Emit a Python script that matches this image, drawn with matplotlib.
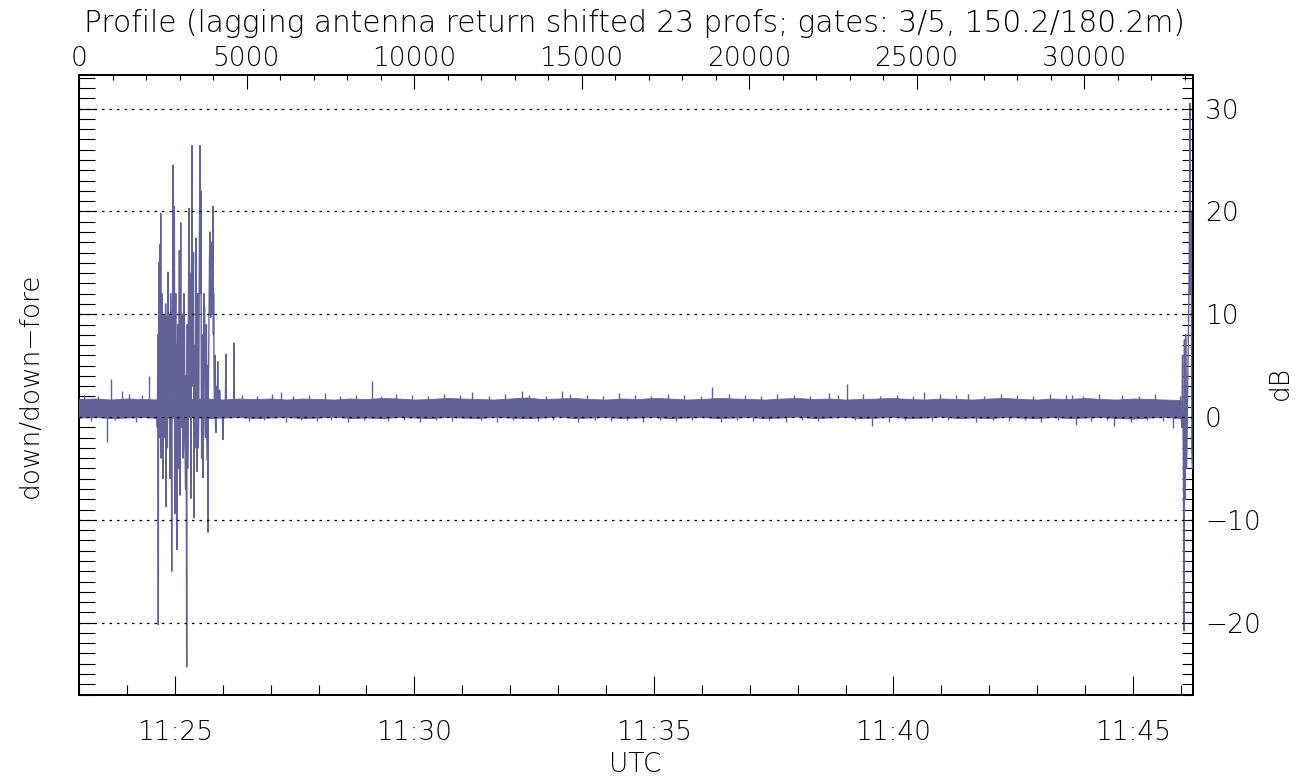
import numpy as np
import matplotlib
matplotlib.use('Agg')
import matplotlib.pyplot as plt
from matplotlib.ticker import MultipleLocator, FixedLocator, FixedFormatter

plt.rcParams['font.family'] = ['DejaVu Sans']
plt.rcParams['font.weight'] = 'light'

# time in minutes after 11:00 UTC
t_start = 23.0
t_end = 46.245
n_profiles = 33240

# noise band of the trace, read every 20 s from 11:23:00 to 11:46:00
band_t = np.linspace(23.0, 46.0, 70)
band_hi = [1.75, 1.8, 1.7, 1.8, 1.75, 1.7, 1.8, 1.75, 1.8, 1.7,
           1.8, 1.75, 1.8, 1.7, 1.8, 1.75, 1.7, 1.8, 1.75, 1.85,
           1.8, 1.7, 1.75, 1.85, 1.8, 1.75, 1.7, 1.8, 1.9, 1.75,
           1.8, 1.85, 1.75, 1.7, 1.8, 1.75, 1.85, 1.8, 1.7, 1.75,
           1.85, 1.8, 1.75, 1.7, 1.8, 1.85, 1.75, 1.8, 1.7, 1.75,
           1.8, 1.85, 1.75, 1.7, 1.8, 1.75, 1.7, 1.8, 1.85, 1.75,
           1.7, 1.8, 1.75, 1.85, 1.75, 1.7, 1.8, 1.75, 1.7, 1.65]
band_lo = [-0.05, 0.0, -0.1, -0.05, 0.0, -0.1, -0.05, 0.05, -0.1, -0.05,
           0.0, -0.1, -0.05, 0.0, -0.1, -0.05, 0.05, -0.1, -0.05, -0.1,
           0.0, -0.05, -0.1, 0.0, -0.05, -0.1, 0.0, -0.05, -0.1, -0.05,
           0.05, -0.1, -0.05, 0.0, -0.1, -0.05, 0.0, -0.1, -0.05, 0.0,
           -0.1, -0.05, 0.0, -0.1, -0.05, 0.05, -0.1, -0.05, 0.0, -0.1,
           -0.05, 0.0, -0.1, -0.05, 0.05, -0.1, -0.05, -0.1, 0.0, -0.05,
           -0.1, 0.0, -0.1, -0.05, 0.0, -0.1, -0.15, -0.05, 0.0, -0.1]

# small fringe spikes along the band edges (time, dB)
fringe = [(23.10, 2.1), (23.25, -0.4), (23.40, 2.0), (23.75, -0.3), (24.05, 2.2),
          (24.20, -0.5), (24.32, 2.1), (26.40, 2.1), (26.55, -0.4), (26.71, 2.0),
          (26.86, -0.3), (27.02, 2.2), (27.33, -0.5), (27.47, 2.0), (27.64, -0.3),
          (27.80, 2.1), (27.96, -0.4), (28.13, 2.3), (28.27, -0.3), (28.45, 2.0),
          (28.61, -0.5), (28.78, 2.1), (28.95, -0.3), (29.30, 2.0), (29.44, -0.4),
          (29.62, 2.2), (29.79, -0.3), (29.95, 2.1), (30.12, -0.5), (30.28, 2.0),
          (30.45, -0.3), (30.61, 2.2), (30.78, -0.4), (30.95, 2.1), (31.40, -0.3),
          (31.55, 2.0), (31.72, -0.5), (31.90, 2.2), (32.05, -0.3), (32.40, 2.1),
          (32.58, -0.4), (32.74, 2.0), (32.90, -0.3), (33.25, 2.2), (33.42, -0.5),
          (33.60, 2.1), (33.77, -0.3), (33.93, 2.0), (34.10, -0.4), (34.27, 2.3),
          (34.44, -0.3), (34.60, 2.1), (34.78, -0.5), (34.95, 2.0), (35.12, -0.3),
          (35.30, 2.2), (35.47, -0.4), (35.63, 2.1), (35.80, -0.3), (35.98, 2.0),
          (36.40, -0.5), (36.57, 2.2), (36.74, -0.3), (36.90, 2.1), (37.07, -0.4),
          (37.24, 2.0), (37.41, -0.3), (37.58, 2.2), (37.75, -0.5), (37.92, 2.1),
          (38.09, -0.3), (38.26, 2.0), (38.43, -0.4), (38.85, 2.1), (39.20, -0.3),
          (39.37, 2.2), (39.72, 2.0), (39.90, -0.5), (40.07, 2.1), (40.24, -0.3),
          (40.41, 2.0), (40.80, -0.4), (40.97, 2.2), (41.14, -0.3), (41.31, 2.1),
          (41.73, -0.5), (41.90, 2.0), (42.07, -0.3), (42.24, 2.2), (42.41, -0.4),
          (42.58, 2.1), (42.75, -0.3), (42.92, 2.0), (43.09, -0.5), (43.26, 2.2),
          (43.43, -0.3), (43.60, 2.1), (43.95, 2.0), (44.12, -0.4), (44.29, 2.2),
          (44.46, -0.3), (44.78, 2.1), (44.95, -0.5), (45.12, 2.0), (45.29, -0.3),
          (45.46, 2.2), (45.63, -0.4), (45.98, 2.0)]

# isolated spikes sticking out of the band
spike_t = [23.58, 23.66, 23.89, 24.46, 27.21, 29.12, 31.21, 32.24, 33.08,
           36.22, 38.66, 39.03, 39.55, 40.63, 41.56, 43.72, 43.81, 44.61, 45.84]
spike_v = [-2.4, 3.7, 2.5, 4.0, 2.4, 3.5, 2.4, 2.5, 2.5,
           2.9, 2.3, 3.2, -0.9, 2.4, 2.2, 2.1, -0.8, -0.9, -1.1]

# the burst around 11:25 (time, dB)
burst = [(24.60, 0.9), (24.62, 1.5), (24.635, -1.0), (24.648, 8.0), (24.655, -20.2),
         (24.66, 4.0), (24.665, 15.0), (24.672, -2.0), (24.68, 10.0), (24.688, 3.0),
         (24.695, 16.8), (24.70, 5.0), (24.706, 19.8), (24.712, -4.0), (24.72, 2.0),
         (24.73, 12.0), (24.74, 9.5), (24.75, -6.0), (24.76, -3.0), (24.77, 8.0),
         (24.78, 10.0), (24.79, -2.0), (24.80, 4.0), (24.808, 11.0), (24.816, -8.7),
         (24.825, 6.0), (24.835, 9.8), (24.845, -3.0), (24.858, 14.1), (24.865, 2.0),
         (24.875, 0.5), (24.882, 9.0), (24.89, 10.0), (24.898, -6.0), (24.905, -3.5),
         (24.912, 12.0), (24.92, 9.0), (24.928, 2.0), (24.935, -15.0), (24.942, 6.0),
         (24.95, 5.0), (24.955, 13.0), (24.962, 24.5), (24.968, 4.0), (24.975, 1.0),
         (24.982, 11.0), (24.99, 20.5), (24.997, 3.0), (25.004, -9.4), (25.012, 8.0),
         (25.02, 12.0), (25.03, -4.0), (25.038, 7.0), (25.046, -12.9), (25.053, 4.0),
         (25.06, 9.0), (25.07, -5.0), (25.08, -2.0), (25.088, 9.0), (25.095, 16.2),
         (25.102, 2.0), (25.109, -7.6), (25.116, 6.0), (25.123, 18.9), (25.13, 5.0),
         (25.14, -1.0), (25.15, 7.0), (25.16, 10.0), (25.17, -4.0), (25.18, -3.0),
         (25.19, 12.0), (25.20, 10.5), (25.21, -2.0), (25.225, -7.0), (25.235, 4.0),
         (25.248, -24.3), (25.254, 3.0), (25.26, 9.0), (25.268, -5.0), (25.275, -2.0),
         (25.285, 11.0), (25.296, 20.3), (25.303, 6.0), (25.31, 0.0), (25.318, 8.0),
         (25.325, 14.0), (25.332, -3.0), (25.338, -7.9), (25.345, 9.0), (25.352, 18.0),
         (25.359, 26.4), (25.366, 10.0), (25.375, 3.0), (25.382, 12.0), (25.39, 16.0),
         (25.396, 2.0), (25.401, -9.8), (25.41, 4.0), (25.42, 7.0), (25.43, -3.0),
         (25.44, 17.4), (25.45, 8.0), (25.46, -5.3), (25.47, 6.0), (25.48, 12.0),
         (25.49, -3.0), (25.50, 0.0), (25.51, 14.0), (25.518, 20.0), (25.526, 26.4),
         (25.535, 12.0), (25.545, 22.0), (25.552, 5.0), (25.56, -4.0), (25.57, 8.0),
         (25.58, 2.0), (25.589, -5.9), (25.597, 6.0), (25.605, 12.0), (25.612, 4.0),
         (25.62, 10.7), (25.63, 0.0), (25.64, -2.0), (25.65, 7.0), (25.66, 9.0),
         (25.67, -1.0), (25.68, -4.2), (25.686, 5.0), (25.693, -11.2), (25.70, 2.0),
         (25.71, 8.0), (25.72, 13.0), (25.73, 18.0), (25.74, 11.0), (25.75, 9.7),
         (25.76, 14.0), (25.77, 17.0), (25.78, 10.0), (25.79, 15.0), (25.797, 20.5),
         (25.805, 8.0), (25.81, 12.0), (25.82, 4.0), (25.83, 1.0), (25.838, 6.0),
         (25.845, 0.5), (25.85, -1.0), (25.86, -1.5), (25.868, 3.0), (25.875, 2.0),
         (25.886, 0.5), (25.896, 5.4), (25.905, 0.8), (25.92, 0.5), (25.935, 2.6),
         (25.95, 1.5), (25.97, 0.8), (25.99, 0.4), (26.006, -2.2), (26.02, 1.6),
         (26.03, 1.2), (26.05, 0.3), (26.069, 6.1), (26.076, 0.2), (26.09, 0.5),
         (26.12, 1.5), (26.15, 0.6), (26.20, 1.2), (26.23, 0.5), (26.236, 7.2),
         (26.245, 0.3), (26.26, 0.8)]

# the end of the record (time, dB)
tail = [(46.00, 0.8), (46.02, -1.0), (46.035, 6.0), (46.05, -3.0), (46.07, -20.8),
        (46.075, 7.5), (46.09, -8.0), (46.10, 8.0), (46.12, -5.0), (46.14, 2.0),
        (46.16, 9.0), (46.175, 15.0), (46.19, 30.5), (46.20, 12.0), (46.215, 20.0),
        (46.23, -3.0), (46.24, -5.0)]

bottom_ticks = [25, 30, 35, 40, 45]
bottom_labels = ['11:25', '11:30', '11:35', '11:40', '11:45']
top_ticks = [0, 5000, 10000, 15000, 20000, 25000, 30000]
db_ticks = [-20, -10, 0, 10, 20, 30]

col = '#626298'
fs = 19

fig = plt.figure(figsize=(13.08, 7.8), dpi=100)
ax = fig.add_axes([79/1308, 85/780, 1113.6/1308, 620/780])
ax.set_xlim(t_start, t_end)
ax.set_ylim(-27.04, 33.27)

# twins: top for profile number, right for dB
ax_top = ax.twiny()
ax_r = ax.twinx()

# bottom: UTC
ax.xaxis.set_major_locator(FixedLocator(bottom_ticks))
ax.xaxis.set_major_formatter(FixedFormatter(bottom_labels))
ax.xaxis.set_minor_locator(MultipleLocator(1))
ax.tick_params(axis='x', which='major', direction='in', length=14, width=0.8,
               labelsize=fs, pad=18, top=False, labeltop=False)
ax.tick_params(axis='x', which='minor', direction='in', length=7, width=0.8, top=False)

# left: ticks only
ax.yaxis.set_major_locator(MultipleLocator(10))
ax.yaxis.set_minor_locator(MultipleLocator(1))
ax.tick_params(axis='y', which='both', direction='in', length=11.5, width=0.8,
               labelleft=False, right=False, labelright=False)

ax_top.set_xlim(0, n_profiles)
ax_top.xaxis.set_major_locator(FixedLocator(top_ticks))
ax_top.xaxis.set_minor_locator(MultipleLocator(1000))
ax_top.tick_params(axis='x', which='major', direction='in', length=10, width=0.8,
                   labelsize=fs, pad=3, bottom=False, labelbottom=False)
ax_top.tick_params(axis='x', which='minor', direction='in', length=3.6, width=0.8,
                   bottom=False)
ax_top.tick_params(axis='y', which='both', left=False, right=False,
                   labelleft=False, labelright=False)

# the data is drawn on ax_r so it lies over the ticks
ax_r.set_xlim(t_start, t_end)
ax_r.set_ylim(-27.04, 33.27)
ax_r.yaxis.set_major_locator(FixedLocator(db_ticks))
ax_r.yaxis.set_minor_locator(MultipleLocator(1))
ax_r.tick_params(axis='y', which='both', direction='in', length=8, width=0.8,
                 labelsize=fs, pad=9, left=False)

for a in (ax, ax_top, ax_r):
    for s in a.spines.values():
        s.set_linewidth(1.1)

ft = [p[0] for p in fringe]
fv = [p[1] for p in fringe]
bt = [p[0] for p in burst]
bv = [p[1] for p in burst]
et = [p[0] for p in tail]
ev = [p[1] for p in tail]

ax_r.fill_between(band_t, band_lo, band_hi, color=col, lw=0.6, zorder=3)
ax_r.vlines(ft, 0.8, fv, color=col, lw=1.0, zorder=3)
ax_r.vlines(spike_t, 0.8, spike_v, color=col, lw=1.0, zorder=3)
ax_r.plot(bt, bv, color=col, lw=1.0, zorder=3)
ax_r.plot(et, ev, color=col, lw=1.0, zorder=3)

for g in db_ticks:
    ax_r.axhline(g, color='black', lw=0.9, ls=(0, (2, 4)), zorder=4)

fig.text(634/1308, 1 - 24/780,
         'Profile (lagging antenna return shifted 23 profs; gates: 3/5, 150.2/180.2m)',
         ha='center', va='center', fontsize=21.3)
fig.text(635/1308, 1 - 765/780, 'UTC', ha='center', va='center', fontsize=fs)
fig.text(30/1308, 1 - 385/780, 'down/down\u2212fore', ha='center', va='center',
         rotation=90, fontsize=fs)
fig.text(1280/1308, 1 - 383/780, 'dB', ha='center', va='center',
         rotation=90, fontsize=fs)

fig.savefig('out.png', dpi=100)
